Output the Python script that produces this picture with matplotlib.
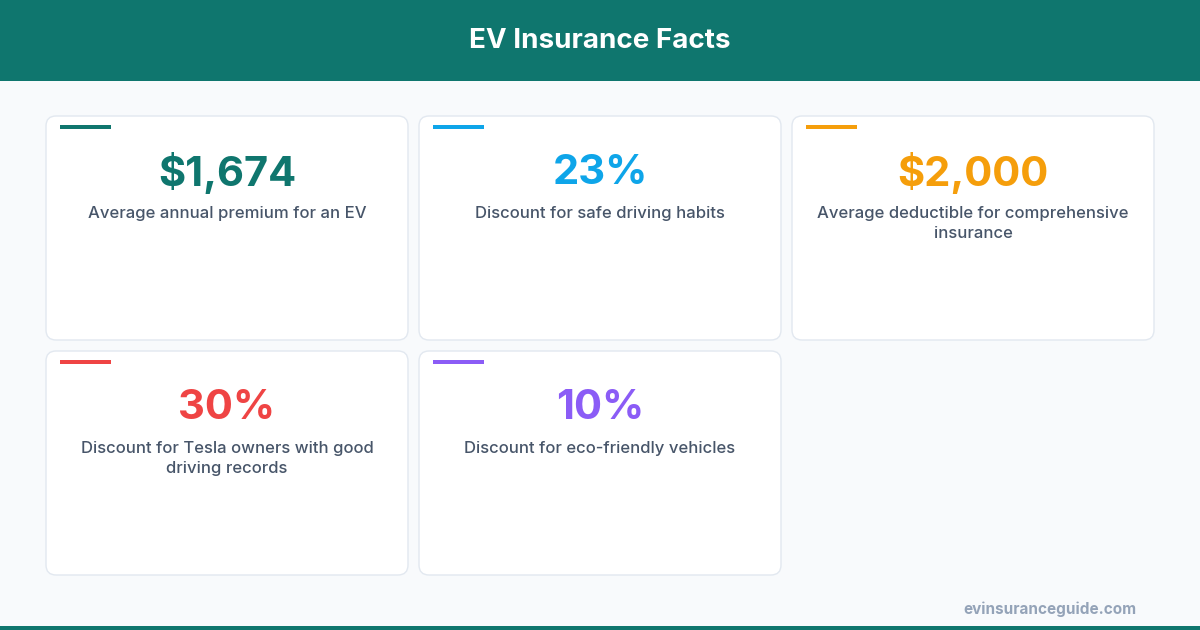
import matplotlib
matplotlib.use("Agg")
import matplotlib.pyplot as plt
from matplotlib.patches import FancyBboxPatch, Rectangle

title = "EV Insurance Facts"
values = ["$1,674", "23%", "$2,000", "30%", "10%"]
labels = ["Average annual premium for an EV",
          "Discount for safe driving habits",
          "Average deductible for comprehensive\ninsurance",
          "Discount for Tesla owners with good\ndriving records",
          "Discount for eco-friendly vehicles"]
colors = ["#0f766e", "#0ea5e9", "#f59e0b", "#ef4444", "#8b5cf6"]
source = "evinsuranceguide.com"

TEAL = "#0f766e"
fig = plt.figure(figsize=(12, 6.3), dpi=100)
fig.patch.set_facecolor("#f8fafc")
ax = fig.add_axes([0, 0, 1, 1])
ax.set_xlim(0, 1200); ax.set_ylim(630, 0); ax.axis("off")

ax.add_patch(Rectangle((0, 0), 1200, 81, color=TEAL, lw=0))
ax.text(600, 41, title, ha="center", va="center", color="white",
        fontsize=20, fontweight="bold", family="Montserrat" if False else "Inter")
ax.add_patch(Rectangle((0, 626), 1200, 4, color=TEAL, lw=0))

xs = [46, 419, 792]; ys = [116, 351]
w, h = 362, 224
for i, (v, l, c) in enumerate(zip(values, labels, colors)):
    x = xs[i % 3]; y = ys[i // 3]
    ax.add_patch(FancyBboxPatch((x, y), w, h, boxstyle="round,pad=0,rounding_size=10",
                                fc="white", ec="#e2e8f0", lw=1))
    ax.add_patch(Rectangle((x + 14, y + 9), 51, 4, color=c, lw=0))
    ax.text(x + w / 2, y + 57, v, ha="center", va="center", color=c,
            fontsize=30, fontweight="bold", family="Inter")
    ax.text(x + w / 2, y + 90, l, ha="center", va="top", color="#475569",
            fontsize=12, fontweight="medium", family="Inter", linespacing=1.45)

ax.text(1136, 609, source, ha="right", va="center", color="#94a3b8",
        fontsize=11, fontweight="bold", family="Inter")
fig.savefig("out.png", dpi=100, facecolor=fig.get_facecolor())
